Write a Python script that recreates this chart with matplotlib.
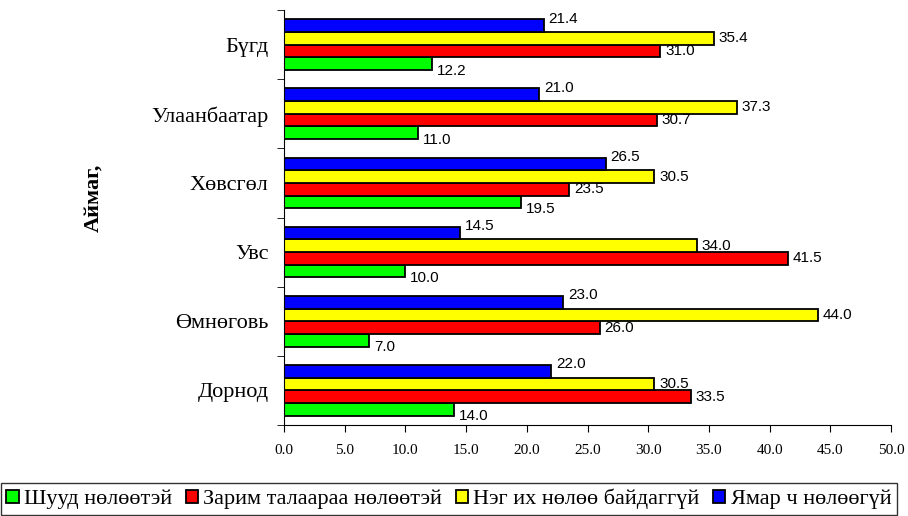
import numpy as np
import matplotlib.pyplot as plt

# Өгөгдөл (дээрээс доош: Бүгд ... Дорнод)
aimag = ['Бүгд', 'Улаанбаатар', 'Хөвсгөл', 'Увс', 'Өмнөговь', 'Дорнод']
shuud = [12.2, 11.0, 19.5, 10.0, 7.0, 14.0]
zarim = [31.0, 30.7, 23.5, 41.5, 26.0, 33.5]
neg_ih = [35.4, 37.3, 30.5, 34.0, 44.0, 30.5]
yamar_ch = [21.4, 21.0, 26.5, 14.5, 23.0, 22.0]

series_names = ['Шууд нөлөөтэй', 'Зарим талаараа нөлөөтэй',
                'Нэг их нөлөө байдаггүй', 'Ямар ч нөлөөгүй']
colors = ['#00ff00', '#ff0000', '#ffff00', '#0000ff']
series = [shuud, zarim, neg_ih, yamar_ch]

serif = 'Liberation Serif'
sans = 'Liberation Sans'

fig = plt.figure(figsize=(9.08, 5.16), dpi=100)
ax = fig.add_axes([284/908, 1-425/516, (891-284)/908, (425-10)/516])

n = len(aimag)
y = np.arange(n)[::-1]  # Бүгд дээр
h = 0.183
offsets = [-1.5*h, -0.5*h, 0.5*h, 1.5*h]
lab_dy = [-5, 0, 0, 5]  # value label shift (points)

for vals, name, c, off, dy in zip(series, series_names, colors, offsets, lab_dy):
    bars = ax.barh(y + off, vals, height=h, color=c, edgecolor='black',
                   linewidth=1.3, label=name)
    for b, v in zip(bars, vals):
        ax.annotate(f'{v:.1f}', (b.get_width(), b.get_y() + h/2),
                    xytext=(3.5, dy), textcoords='offset points',
                    ha='left', va='center', fontsize=11, family=sans)

ax.set_xlim(0, 50)
ax.set_ylim(-0.5, n - 0.5)
ticks = np.arange(0, 50.1, 5)
ax.set_xticks(ticks)
ax.set_xticklabels([f'{t:.1f}' for t in ticks], family=serif, fontsize=11)
ax.tick_params(axis='x', direction='out', length=5, pad=9)

ax.set_yticks(y)
ax.set_yticklabels(aimag, family=serif, fontsize=16)
ax.tick_params(axis='y', which='major', length=0, pad=11)
ax.set_yticks(np.arange(-0.5, n, 1), minor=True)
ax.tick_params(axis='y', which='minor', direction='out', length=5)

for s in ['top', 'right']:
    ax.spines[s].set_visible(False)

fig.text(93/908, 1-198/516, 'Аймаг,', rotation=90, ha='center', va='center',
         family=serif, fontsize=16, fontweight='bold')

handles, labels = ax.get_legend_handles_labels()
leg = fig.legend(handles, labels, loc='upper right', ncol=4,
                 bbox_to_anchor=(897/908, 1-483/516),
                 prop={'family': serif, 'size': 16},
                 frameon=True, fancybox=False, edgecolor='black',
                 handlelength=0.55, handleheight=0.55, handletextpad=0.25,
                 columnspacing=0.6, borderpad=0.25, borderaxespad=0)
leg.get_frame().set_linewidth(1)

fig.savefig('out.png', dpi=100)
